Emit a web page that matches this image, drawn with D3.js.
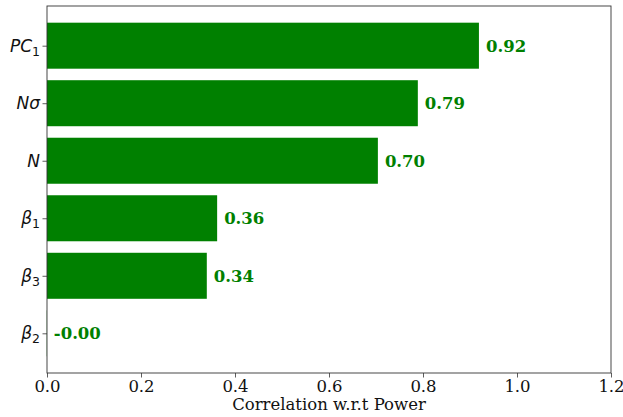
<!DOCTYPE html>
<html>
<head>
<meta charset="utf-8">
<script src="https://d3js.org/d3.v7.min.js"></script>
<style>
  html, body { margin: 0; padding: 0; background: #fff; }
  svg { display: block; }
  .serif { font-family: "DejaVu Serif", "Liberation Serif", serif; }
  .math { font-family: "DejaVu Sans", sans-serif; }
</style>
</head>
<body>
<div id="chart"></div>
<script>
'use strict';

// ─── DATA ────────────────────────────────────────────────────
// bottom to top, same order matplotlib's barh draws them
var features = ['β2', 'β3', 'β1', 'N', 'Nσ', 'PC1'];
var featureBase = ['β', 'β', 'β', 'N', 'Nσ', 'PC'];
var featureSub = ['2', '3', '1', '', '', '1'];
var correlations = [-0.0004, 0.34, 0.362, 0.704, 0.789, 0.919];
var xTicks = [0.0, 0.2, 0.4, 0.6, 0.8, 1.0, 1.2];
var xLabel = 'Correlation w.r.t Power';

// ─── LAYOUT ──────────────────────────────────────────────────
var W = 623, H = 417;
var plot = { left: 47, right: 611, top: 6, bottom: 373 };
var green = '#008000';

var svg = d3.select('#chart').append('svg')
    .attr('width', W)
    .attr('height', H);

var x = d3.scaleLinear()
    .domain([0, 1.2])
    .range([plot.left, plot.right]);

// matplotlib: bars at 0..5, height 0.8, 5% margins
var y = d3.scaleLinear()
    .domain([-0.69, 5.69])
    .range([plot.bottom, plot.top]);

// bars
svg.append('g')
    .selectAll('rect')
    .data(correlations)
    .enter()
    .append('rect')
    .attr('x', function(d) { return x(Math.min(0, d)); })
    .attr('width', function(d) { return Math.abs(x(d) - x(0)); })
    .attr('y', function(d, i) { return y(i + 0.4); })
    .attr('height', function(d, i) { return y(i - 0.4) - y(i + 0.4); })
    .attr('fill', green);

// value labels
svg.append('g')
    .selectAll('text')
    .data(correlations)
    .enter()
    .append('text')
    .attr('class', 'serif')
    .attr('x', function(d) { return x(d) + 7; })
    .attr('y', function(d, i) { return y(i); })
    .attr('dy', '0.36em')
    .style('font-weight', 'bold')
    .style('font-size', '16.5px')
    .attr('fill', green)
    .text(function(d) { return d.toFixed(2); });

// x axis
var xAxis = d3.axisBottom(x)
    .tickValues(xTicks)
    .tickFormat(d3.format('.1f'))
    .tickSizeInner(4.5)
    .tickSizeOuter(0)
    .tickPadding(3);

var gx = svg.append('g')
    .attr('transform', 'translate(0,' + plot.bottom + ')')
    .call(xAxis);
gx.attr('font-family', null).attr('font-size', null);
gx.select('.domain').remove();
gx.selectAll('line').attr('stroke', '#333').attr('stroke-width', 0.8);
gx.selectAll('text')
    .attr('class', 'serif')
    .style('font-size', '16.5px')
    .attr('fill', '#111');

// y axis
var yAxis = d3.axisLeft(y)
    .tickValues(d3.range(features.length))
    .tickFormat('')
    .tickSizeInner(4.5)
    .tickSizeOuter(0);

var gy = svg.append('g')
    .attr('transform', 'translate(' + plot.left + ',0)')
    .call(yAxis);
gy.select('.domain').remove();
gy.selectAll('line').attr('stroke', '#333').attr('stroke-width', 0.8);

// math-style tick labels with subscripts
var ylab = svg.append('g')
    .selectAll('text')
    .data(features)
    .enter()
    .append('text')
    .attr('class', 'math')
    .attr('x', plot.left - 7)
    .attr('y', function(d, i) { return y(i); })
    .attr('dy', '0.36em')
    .attr('text-anchor', 'end')
    .style('font-size', '17px')
    .attr('fill', '#111');

ylab.append('tspan')
    .style('font-style', 'italic')
    .text(function(d, i) { return featureBase[i]; });

ylab.append('tspan')
    .style('font-size', '12.5px')
    .attr('dy', 4)
    .text(function(d, i) { return featureSub[i]; });

// frame
svg.append('rect')
    .attr('x', plot.left)
    .attr('y', plot.top)
    .attr('width', plot.right - plot.left)
    .attr('height', plot.bottom - plot.top)
    .attr('fill', 'none')
    .attr('stroke', '#333')
    .attr('stroke-width', 0.9);

// axis title
svg.append('text')
    .attr('class', 'serif')
    .attr('x', (plot.left + plot.right) / 2)
    .attr('y', 410)
    .attr('text-anchor', 'middle')
    .style('font-size', '16.5px')
    .attr('fill', '#111')
    .text(xLabel);
</script>
</body>
</html>
